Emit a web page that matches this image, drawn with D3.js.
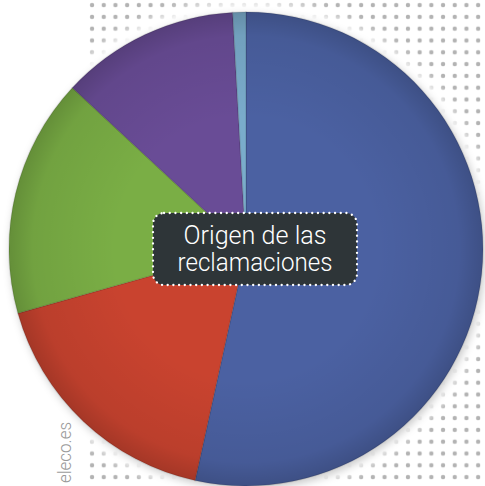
<!DOCTYPE html>
<html>
<head>
<meta charset="utf-8">
<script src="https://cdn.jsdelivr.net/npm/d3@7"></script>
<style>
  html, body { margin: 0; padding: 0; background: #fff; }
  svg { display: block; }
</style>
</head>
<body>
<div id="app"></div>
<script>
'use strict'

// slices, clockwise from 12 o'clock (no legend in the source, so plain names)
const categories = ['Serie 1', 'Serie 2', 'Serie 3', 'Serie 4', 'Serie 5']
const values = [53.5, 17.2, 16.3, 12.2, 0.9]
const titleLines = ['Origen de las', 'reclamaciones']
const sourceLabel = 'eleco.es'

const width = 485
const height = 486
const cx = 246
const cy = 249
const radius = 237

const color = d3.scaleOrdinal(categories, ['#4b61a2', '#c9432f', '#7aae45', '#694c96', '#7aaccb'])

const svg = d3.select('#app').append('svg')
  .attr('width', width)
  .attr('height', height)

const defs = svg.append('defs')

// dotted background
const pattern = defs.append('pattern')
  .attr('id', 'dots')
  .attr('patternUnits', 'userSpaceOnUse')
  .attr('x', 86.2)
  .attr('y', -0.8)
  .attr('width', 11.7)
  .attr('height', 11.8)
pattern.append('circle')
  .attr('cx', 5.85)
  .attr('cy', 5.9)
  .attr('r', 2.2)
  .attr('fill', '#b3b3b3')

svg.append('rect')
  .attr('x', 86)
  .attr('y', 0)
  .attr('width', width - 86)
  .attr('height', 482)
  .attr('fill', 'url(#dots)')

// white halo + soft shadow around the disc
const halo = defs.append('filter').attr('id', 'halo')
  .attr('x', '-20%').attr('y', '-20%').attr('width', '140%').attr('height', '140%')
halo.append('feGaussianBlur').attr('stdDeviation', 6)

const shadow = defs.append('filter').attr('id', 'shadow')
  .attr('x', '-20%').attr('y', '-20%').attr('width', '140%').attr('height', '140%')
shadow.append('feGaussianBlur').attr('stdDeviation', 4)

svg.append('circle')
  .attr('cx', cx).attr('cy', cy).attr('r', radius + 11)
  .attr('fill', '#fff')
  .attr('filter', 'url(#halo)')

svg.append('circle')
  .attr('cx', cx + 2).attr('cy', cy + 3).attr('r', radius)
  .attr('fill', 'rgba(0,0,0,0.22)')
  .attr('filter', 'url(#shadow)')

const g = svg.append('g')
  .attr('transform', `translate(${cx}, ${cy})`)

const pie = d3.pie().value(d => d.value).sort(null)
const arc = d3.arc().innerRadius(0).outerRadius(radius)

const slices = categories.map((c, i) => ({ name: c, value: values[i] }))

g.selectAll('.slice')
  .data(pie(slices))
  .enter().append('path')
  .attr('class', 'slice')
  .attr('d', arc)
  .attr('fill', d => color(d.data.name))
  .attr('stroke', 'rgba(0,0,0,0.1)')
  .attr('stroke-width', 1.5)

// darkening toward the rim
const shade = defs.append('radialGradient').attr('id', 'shade')
shade.append('stop').attr('offset', '0.55').attr('stop-color', '#000').attr('stop-opacity', 0)
shade.append('stop').attr('offset', '0.9').attr('stop-color', '#000').attr('stop-opacity', 0.07)
shade.append('stop').attr('offset', '1').attr('stop-color', '#000').attr('stop-opacity', 0.18)

g.append('circle')
  .attr('r', radius)
  .attr('fill', 'url(#shade)')

// title box
svg.append('rect')
  .attr('x', 153)
  .attr('y', 213)
  .attr('width', 204)
  .attr('height', 72)
  .attr('rx', 11)
  .attr('fill', '#2e3538')
  .attr('stroke', '#fff')
  .attr('stroke-width', 2.3)
  .attr('stroke-linecap', 'round')
  .attr('stroke-dasharray', '0.1 5.6')

svg.selectAll('.title')
  .data(titleLines)
  .enter().append('text')
  .attr('class', 'title')
  .attr('x', 255)
  .attr('y', (d, i) => 244 + i * 27)
  .attr('text-anchor', 'middle')
  .attr('textLength', (d, i) => i === 0 ? 143 : 155)
  .attr('lengthAdjust', 'spacingAndGlyphs')
  .style('font-family', 'Roboto, "Liberation Sans Narrow", sans-serif')
  .style('font-weight', 300)
  .style('font-size', '25px')
  .style('fill', '#fff')
  .text(d => d)

// source
svg.append('text')
  .attr('transform', 'translate(71, 483) rotate(-90)')
  .attr('textLength', 61)
  .attr('lengthAdjust', 'spacingAndGlyphs')
  .style('font-family', 'Roboto, "Liberation Sans Narrow", sans-serif')
  .style('font-weight', 300)
  .style('font-size', '18px')
  .style('fill', '#9a9a9a')
  .text(sourceLabel)
</script>
</body>
</html>
